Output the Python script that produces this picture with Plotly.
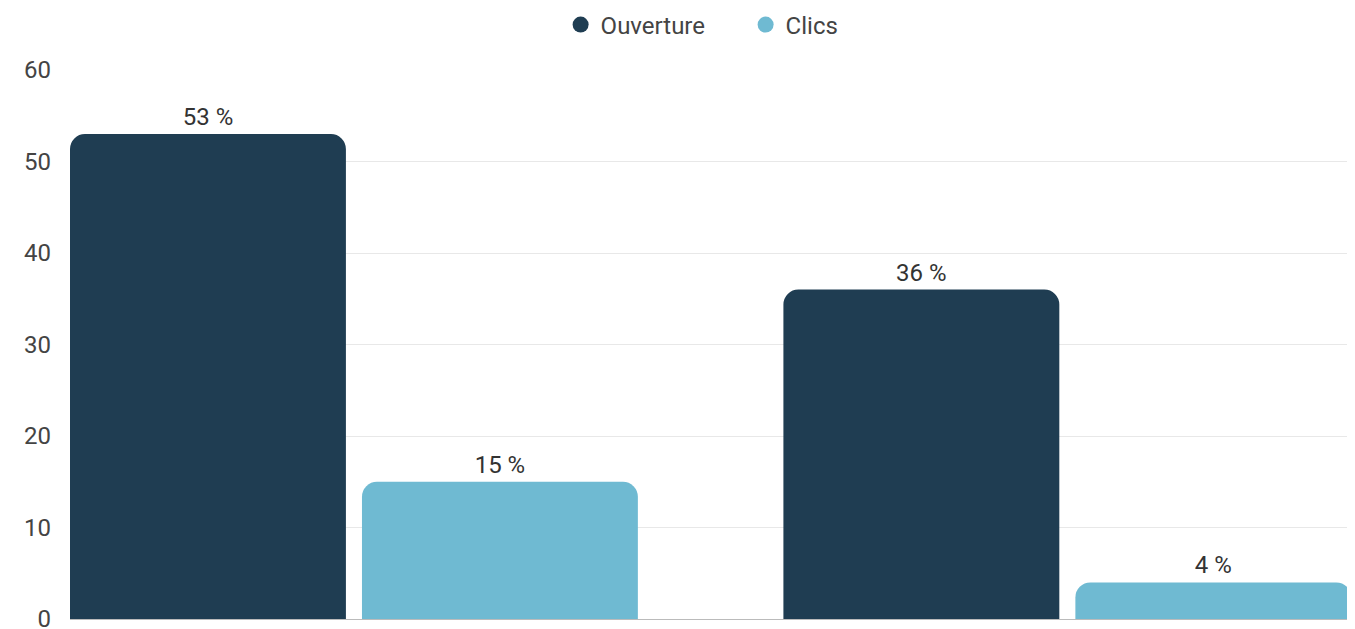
import plotly.graph_objects as go

categories = ["Campagne 1", "Campagne 2"]
ouverture = [53, 36]
clics = [15, 4]
series_names = ["Ouverture", "Clics"]
colors = ["#1f3d52", "#6fbad2"]
y_ticks = [0, 10, 20, 30, 40, 50, 60]

fig = go.Figure()
for name, vals, col in zip(series_names, [ouverture, clics], colors):
    fig.add_trace(go.Bar(
        x=categories, y=vals, name=name, marker_color=col,
        marker_line_width=0,
        texttemplate="%{y} %", textposition="outside",
        textfont=dict(family="Roboto", size=24, color="#333333"),
        cliponaxis=False, showlegend=False,
    ))
    fig.add_trace(go.Scatter(
        x=[None], y=[None], mode="markers", name=name,
        marker=dict(symbol="circle", size=24, color=col),
    ))

fig.update_layout(
    width=1355, height=629,
    margin=dict(l=62, r=11, t=62, b=18, autoexpand=False),
    paper_bgcolor="white", plot_bgcolor="white",
    barmode="group", bargap=0.1815, bargroupgap=0.055,
    barcornerradius=15,
    font=dict(family="Roboto", size=24, color="#444444"),
    legend=dict(orientation="h", x=0.527, xanchor="center",
                yref="container", y=1 - 17 / 629, yanchor="middle",
                font=dict(size=24, color="#444444"),
                itemsizing="trace", itemwidth=30, entrywidth=140),
    xaxis=dict(range=[-0.398, 1.399], showticklabels=False, showgrid=False,
               zeroline=False, showline=False, fixedrange=True),
    yaxis=dict(range=[0, 60], tickvals=y_ticks, showgrid=True, gridcolor="#e8e8e8",
               gridwidth=1, zeroline=True, zerolinecolor="#bbbbbb", zerolinewidth=1,
               ticks="", ticklabelstandoff=18, automargin=False,
               tickfont=dict(size=24, color="#444444")),
)
fig.write_html("out.html")
